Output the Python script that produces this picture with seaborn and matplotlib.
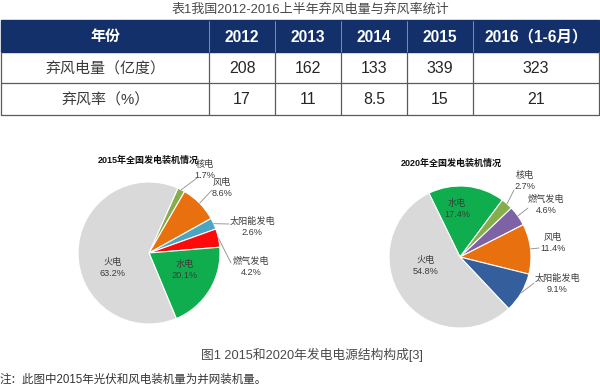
import numpy as np
import matplotlib
matplotlib.use("Agg")
import matplotlib.pyplot as plt
from matplotlib.patches import Rectangle
import seaborn as sns

# ---------------- data ----------------
table_title = "表1我国2012-2016上半年弃风电量与弃风率统计"
header_first = "年份"
years = ["2012", "2013", "2014", "2015", "2016（1-6月）"]
row_labels = ["弃风电量（亿度）", "弃风率（%）"]
curtail_energy = [208, 162, 133, 339, 323]
curtail_rate = [17, 11, 8.5, 15, 21]

title_2015 = "2015年全国发电装机情况"
cats_2015 = ["核电", "风电", "太阳能发电", "燃气发电", "水电", "火电"]
share_2015 = [1.7, 8.6, 2.6, 4.2, 20.1, 63.2]

title_2020 = "2020年全国发电装机情况"
cats_2020 = ["水电", "核电", "燃气发电", "风电", "太阳能发电", "火电"]
share_2020 = [17.4, 2.7, 4.6, 11.4, 9.1, 54.8]

caption = "图1 2015和2020年发电电源结构构成[3]"
note = "注：此图中2015年光伏和风电装机量为并网装机量。"

# ---------------- style ----------------
sns.set_theme(style="white")
FAM = ["Liberation Sans", "Noto Sans CJK SC", "DejaVu Sans"]
plt.rcParams["font.family"] = FAM

colors_2015 = {"核电": "#86ad4c", "风电": "#e8700f", "太阳能发电": "#4aa6c2",
               "燃气发电": "#ff0a0a", "水电": "#10ad4e", "火电": "#d9d9d9"}
colors_2020 = {"水电": "#10ad4e", "核电": "#86ad4c", "燃气发电": "#7e62a6",
               "风电": "#e8700f", "太阳能发电": "#355f9c", "火电": "#d9d9d9"}

W, H = 600, 390
fig = plt.figure(figsize=(W / 100, H / 100), dpi=100)
fig.patch.set_facecolor("white")

bg = fig.add_axes([0, 0, 1, 1])
bg.set_xlim(0, W)
bg.set_ylim(H, 0)
bg.axis("off")

# ---------------- table ----------------
bg.text(310, 9, table_title, ha="center", va="center", fontsize=9.4, color="#4a4a4a")

col_edges = [1, 209, 275, 341, 407, 473, 599]
row_edges = [20, 52, 83, 115]
navy = "#13306a"

# header
bg.add_patch(Rectangle((col_edges[0], row_edges[0]), col_edges[-1] - col_edges[0],
                       row_edges[1] - row_edges[0], facecolor=navy, edgecolor=navy, lw=1))
for x in col_edges[1:-1]:
    bg.plot([x, x], [row_edges[0] + 1, row_edges[1]], color="#8f9dbd", lw=0.6)
header = [header_first] + years
for i, txt in enumerate(header):
    xc = (col_edges[i] + col_edges[i + 1]) / 2
    bg.text(xc, (row_edges[0] + row_edges[1]) / 2 + 1, txt, ha="center", va="center",
            fontsize=11.2 if i > 0 else 10.8, color="white", fontweight="bold")

# body
body = [[row_labels[0]] + [str(v) for v in curtail_energy],
        [row_labels[1]] + ["{:g}".format(v) for v in curtail_rate]]
for r, row in enumerate(body):
    y0, y1 = row_edges[r + 1], row_edges[r + 2]
    for i, txt in enumerate(row):
        xc = (col_edges[i] + col_edges[i + 1]) / 2
        bg.text(xc, (y0 + y1) / 2 + 1, txt, ha="center", va="center",
                fontsize=11.4 if i > 0 else 10.8, color="#262626" if i > 0 else "#3a3a3a")
grid_c = "#5a5a5a"
for y in row_edges[2:]:
    bg.plot([col_edges[0], col_edges[-1]], [y, y], color=grid_c, lw=0.9)
for x in col_edges:
    bg.plot([x, x], [row_edges[1], row_edges[-1]], color=grid_c, lw=0.9)

# ---------------- pies ----------------
R = 71


def draw_pie(cx, cy, cats, vals, cmap, startangle, title, title_xy,
             label_pos, leaders):
    ax = fig.add_axes([(cx - R) / W, (H - (cy + R)) / H, 2 * R / W, 2 * R / H])
    wedges, _ = ax.pie(vals, colors=[cmap[c] for c in cats], startangle=startangle,
                       counterclock=False, radius=1,
                       wedgeprops=dict(edgecolor="white", linewidth=0.8))
    ax.set_xlim(-1, 1)
    ax.set_ylim(-1, 1)
    ax.set_aspect("equal")
    ax.axis("off")
    tr = bg.transData
    ax.text(title_xy[0], title_xy[1], title, transform=tr, ha="center", va="center",
            fontsize=6.5, fontweight="bold", color="#111111")
    for w, c, v in zip(wedges, cats, vals):
        px, py = label_pos[c]
        ax.text(px, py, f"{c}\n{v}%", transform=tr, ha="center", va="center",
                fontsize=6.6, color="#3c3c3c", linespacing=1.2)
        if c in leaders:
            mid = np.deg2rad((w.theta1 + w.theta2) / 2)
            sx, sy = cx + R * np.cos(mid), cy - R * np.sin(mid)
            ex, ey = leaders[c]
            ax.plot([sx, ex], [sy, ey], transform=tr, color="#8c8c8c", lw=0.6,
                    clip_on=False)
    return ax


draw_pie(149, 253, cats_2015, share_2015, colors_2015, 66, title_2015, (148, 160),
         {"核电": (205, 170), "风电": (222, 188), "太阳能发电": (252, 227),
          "燃气发电": (251, 267), "水电": (185, 270), "火电": (113, 268)},
         {"核电": (197, 178), "风电": (212, 190), "太阳能发电": (229, 224),
          "燃气发电": (231, 263)})

draw_pie(460, 257, cats_2020, share_2020, colors_2020, 116, title_2020, (451, 163),
         {"核电": (525, 181), "燃气发电": (546, 205), "风电": (553, 243),
          "太阳能发电": (557, 284), "水电": (457, 209), "火电": (426, 266)},
         {"核电": (514, 190), "燃气发电": (528, 208), "风电": (539, 248),
          "太阳能发电": (534, 283)})

# ---------------- captions ----------------
bg.text(312, 355, caption, ha="center", va="center", fontsize=9.2, color="#4a4a4a")
bg.text(0, 380, note, ha="left", va="center", fontsize=8.3, color="#333333")

fig.savefig("out.png", dpi=100, facecolor="white")
